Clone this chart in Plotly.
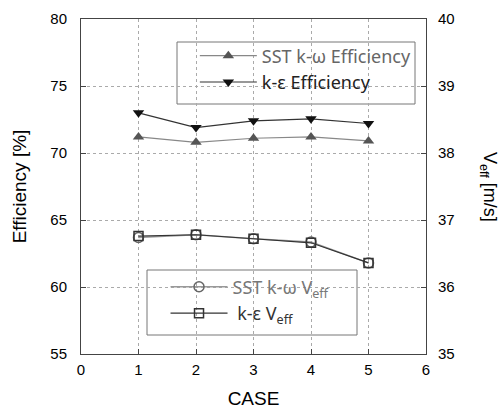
import plotly.graph_objects as go

cases = [1, 2, 3, 4, 5]
sst_eff = [71.2, 70.8, 71.1, 71.2, 70.9]
ke_eff = [73.0, 71.9, 72.4, 72.55, 72.2]
sst_veff = [36.74, 36.78, 36.72, 36.67, 36.36]
ke_veff = [36.76, 36.78, 36.72, 36.66, 36.36]

x_ticks = [0, 1, 2, 3, 4, 5, 6]
y1_ticks = [55, 60, 65, 70, 75, 80]
y2_ticks = [35, 36, 37, 38, 39, 40]

TICKFONT = dict(family="Liberation Sans, Arial", size=15, color="#000")
TITLEFONT = dict(family="Liberation Sans, Arial", size=19, color="#000")
LEGFONT = "Noto Sans, Open Sans"

fig = go.Figure()
fig.add_trace(go.Scatter(
    x=cases, y=sst_eff, mode="lines+markers",
    name="<span style='color:#666'>SST k-ω Efficiency</span>",
    line=dict(color="#888", width=1.2),
    marker=dict(symbol="triangle-up", size=10, color="#555"),
    legend="legend"))
fig.add_trace(go.Scatter(
    x=cases, y=ke_eff, mode="lines+markers",
    name="<span style='color:#222'>k-ε Efficiency</span>",
    line=dict(color="#333", width=1.2),
    marker=dict(symbol="triangle-down", size=10, color="#111"),
    legend="legend"))
fig.add_trace(go.Scatter(
    x=cases, y=sst_veff, mode="lines+markers", yaxis="y2",
    name="<span style='color:#777'>SST k-ω V<sub>eff</sub></span>",
    line=dict(color="#999", width=1.5),
    marker=dict(symbol="circle-open", size=10, color="#666", line=dict(width=1.5)),
    legend="legend2"))
fig.add_trace(go.Scatter(
    x=cases, y=ke_veff, mode="lines+markers", yaxis="y2",
    name="<span style='color:#333'> k-ε V<sub>eff</sub></span>",
    line=dict(color="#333", width=1.2),
    marker=dict(symbol="square-open", size=9, color="#333", line=dict(width=1.5)),
    legend="legend2"))

axis_common = dict(
    showline=True, linecolor="#444", linewidth=1,
    ticks="inside", ticklen=5, tickcolor="#444",
    tickfont=TICKFONT, zeroline=False, automargin=False,
)

fig.update_layout(
    width=501, height=413,
    margin=dict(l=81, r=75, t=19, b=59),
    paper_bgcolor="white", plot_bgcolor="white",
    showlegend=True,
    xaxis=dict(range=[0, 6], tickvals=x_ticks, showgrid=True,
               gridcolor="#aaa", griddash="dot", gridwidth=1,
               title=dict(text="CASE", font=TITLEFONT, standoff=14),
               ticklabelstandoff=2, mirror=True, **axis_common),
    yaxis=dict(range=[55, 80], tickvals=y1_ticks, showgrid=True,
               gridcolor="#aaa", griddash="dot", gridwidth=1,
               title=dict(text="Efficiency [%]", font=TITLEFONT, standoff=18),
               ticklabelstandoff=10, **axis_common),
    yaxis2=dict(range=[35, 40], tickvals=y2_ticks, overlaying="y", side="right",
                showgrid=False, ticklabelstandoff=8, **axis_common),
    legend=dict(x=0.33, y=0.945, xanchor="left", yanchor="top",
                bgcolor="rgba(0,0,0,0)", borderwidth=0,
                font=dict(family=LEGFONT, size=18, color="#222"),
                itemwidth=57, tracegroupgap=0),
    legend2=dict(x=0.245, y=0.255, xanchor="left", yanchor="top",
                 bgcolor="rgba(0,0,0,0)", borderwidth=0,
                 font=dict(family=LEGFONT, size=18, color="#222"),
                 itemwidth=57, tracegroupgap=0),
    shapes=[
        dict(type="rect", xref="paper", yref="paper",
             x0=(177 - 81) / 345, x1=(415 - 81) / 345,
             y0=(354 - 104) / 335, y1=(354 - 42) / 335,
             line=dict(color="#777", width=1), fillcolor="white", layer="below"),
        dict(type="rect", xref="paper", yref="paper",
             x0=(147 - 81) / 345, x1=(357 - 81) / 345,
             y0=(354 - 335) / 335, y1=(354 - 270) / 335,
             line=dict(color="#777", width=1), fillcolor="white", layer="below"),
    ],
    annotations=[
        dict(text="V<sub>eff</sub> [m/s]", xref="paper", yref="paper",
             x=1 + (489 - 426) / 345, y=(354 - 187) / 335, textangle=90,
             showarrow=False, xanchor="center", yanchor="middle",
             font=dict(family="Liberation Sans, Arial", size=18, color="#000")),
    ],
)

fig.write_html("out.html")
